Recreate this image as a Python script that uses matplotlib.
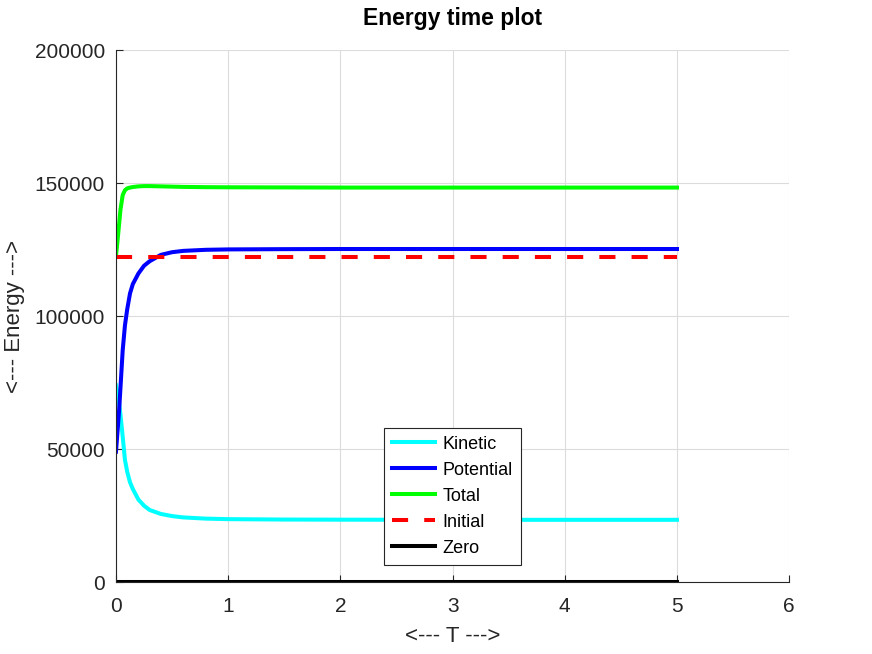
import numpy as np
import matplotlib
matplotlib.use('Agg')
import matplotlib.pyplot as plt

# values
t = [0, 0.02, 0.03, 0.04, 0.06, 0.08, 0.1, 0.125, 0.15, 0.2, 0.25, 0.3,
     0.4, 0.5, 0.6, 0.8, 1.0, 1.5, 2, 3, 4, 5]
kinetic = [74000, 69500, 66500, 63000, 54600, 45900, 41500, 37500, 35000,
           31000, 28700, 27100, 25600, 24800, 24300, 23850, 23650, 23500,
           23450, 23400, 23400, 23400]
potential = [49000, 60000, 65900, 73000, 87200, 96500, 102500, 108500,
             112000, 116000, 118900, 120600, 123000, 124000, 124500, 124900,
             125050, 125150, 125200, 125200, 125200, 125200]
total = [122500, 131000, 135500, 140000, 145500, 147300, 148000, 148300,
         148500, 148750, 148850, 148850, 148750, 148650, 148550, 148450,
         148400, 148350, 148300, 148300, 148300, 148300]
t_span = [0, 5]
initial = [122300, 122300]
zero = [0, 0]

xticks = [0, 1, 2, 3, 4, 5, 6]
yticks = [0, 50000, 100000, 150000, 200000]

plt.rcParams['font.family'] = ['Liberation Sans', 'DejaVu Sans']
axis_col = '#262626'

fig = plt.figure(figsize=(8.72, 6.54), dpi=100)
ax = fig.add_axes([0.133, 0.110, 0.772, 0.8135])

lw = 2.9
ax.plot(t, kinetic, color='cyan', lw=lw, label='Kinetic')
ax.plot(t, potential, color='blue', lw=lw, label='Potential')
ax.plot(t, total, color='lime', lw=lw, label='Total')
ax.plot(t_span, initial, color='red', lw=lw, linestyle=(0, (4, 4)), label='Initial')
ax.plot(t_span, zero, color='black', lw=lw, label='Zero')

ax.set_xlim(0, 6)
ax.set_ylim(0, 200000)
ax.set_xticks(xticks)
ax.set_yticks(yticks)
ax.grid(True, color='#dcdcdc', lw=0.8)
ax.set_axisbelow(True)

for s in ['top', 'right']:
    ax.spines[s].set_visible(False)
for s in ['left', 'bottom']:
    ax.spines[s].set_color(axis_col)
    ax.spines[s].set_linewidth(0.8)

ax.tick_params(direction='in', length=5, width=0.8, colors=axis_col,
               labelsize=15, pad=8)
ax.tick_params(axis='x', pad=11)

ax.set_xlabel('<--- T --->', fontsize=16, color=axis_col, labelpad=7)
ax.set_ylabel('<--- Energy --->', fontsize=16, color=axis_col, labelpad=7)
ax.set_title('Energy time plot', fontsize=16.5, fontweight='bold', pad=18)

leg = ax.legend(loc='lower center', fontsize=13, handlelength=2.35,
                handletextpad=0.45, labelspacing=0.5, borderpad=0.45,
                borderaxespad=0.95, fancybox=False, framealpha=1,
                edgecolor=axis_col)
leg.get_frame().set_linewidth(0.8)

fig.savefig('out.png', dpi=100)
